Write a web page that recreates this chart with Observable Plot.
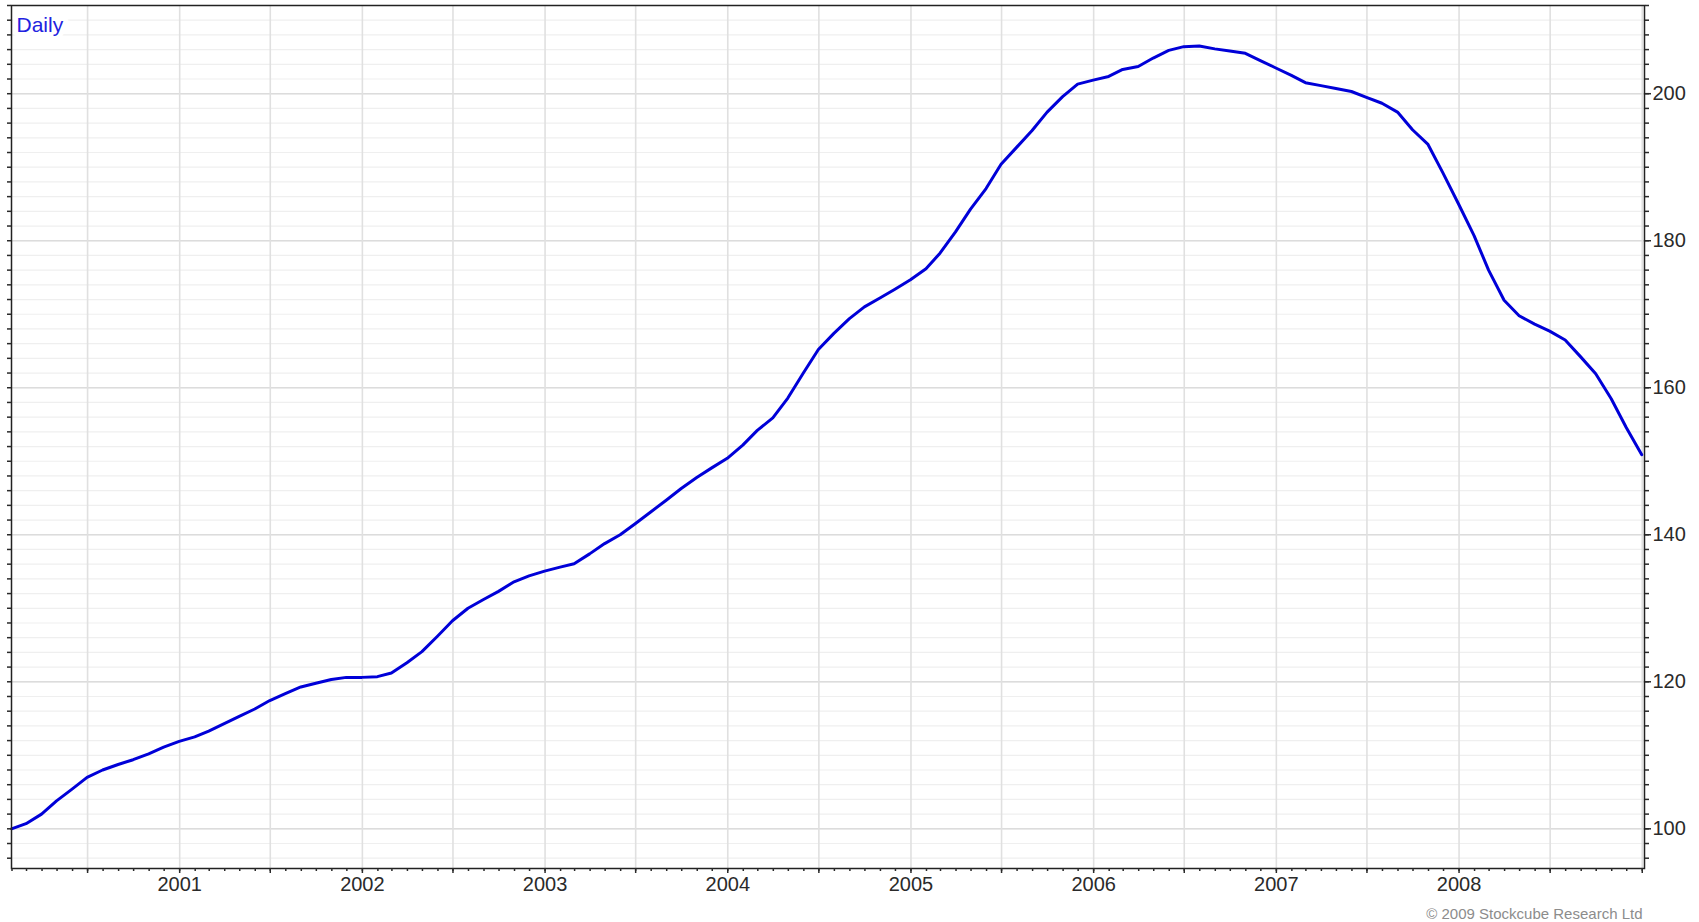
<!DOCTYPE html>
<html>
<head>
<meta charset="utf-8">
<script src="https://cdn.jsdelivr.net/npm/d3@7"></script>
<script src="https://cdn.jsdelivr.net/npm/@observablehq/plot@0.6"></script>
<style>
  html, body { margin: 0; padding: 0; background: #fff; overflow: hidden; }
  #chart svg { display: block; }
</style>
</head>
<body>
<div id="chart"></div>
<script>
// Monthly index values (month-end)
const years = [2000, 2001, 2002, 2003, 2004, 2005, 2006, 2007, 2008];
const values2000 = [100.0, 100.7, 102.0, 103.8, 105.4, 107.0, 108.0, 108.75, 109.4, 110.2, 111.1, 111.9];
const values2001 = [112.5, 113.3, 114.3, 115.3, 116.3, 117.45, 118.4, 119.3, 119.8, 120.3, 120.6, 120.6];
const values2002 = [120.7, 121.2, 122.6, 124.1, 126.2, 128.3, 130.0, 131.2, 132.3, 133.6, 134.4, 135.05];
const values2003 = [135.6, 136.05, 137.4, 138.8, 140.0, 141.5, 143.1, 144.7, 146.3, 147.8, 149.1, 150.4];
const values2004 = [152.2, 154.2, 155.9, 158.6, 162.0, 165.2, 167.4, 169.4, 171.0, 172.2, 173.4, 174.7];
const values2005 = [176.2, 178.3, 181.2, 184.3, 187.1, 190.4, 192.7, 195.0, 197.5, 199.6, 201.3, 201.85];
const values2006 = [202.35, 203.3, 203.7, 204.85, 205.9, 206.4, 206.5, 206.1, 205.8, 205.5, 204.5, 203.5];
const values2007 = [202.5, 201.5, 201.1, 200.7, 200.3, 199.5, 198.7, 197.5, 195.1, 193.1, 189.2, 185.0];
const values2008 = [180.7, 176.0, 171.9, 169.8, 168.65, 167.7, 166.5, 164.2, 161.9, 158.5, 154.6, 150.9];
const valuesByYear = [values2000, values2001, values2002, values2003, values2004, values2005, values2006, values2007, values2008];

const yLabelTicks = [100, 120, 140, 160, 180, 200];
const xLabelYears = [2001, 2002, 2003, 2004, 2005, 2006, 2007, 2008];
const seriesLabel = "Daily";
const copyright = "\u00A9 2009 Stockcube Research Ltd";

// Build table
const data = [];
years.forEach((yr, i) => {
  valuesByYear[i].forEach((v, m) => {
    data.push({date: new Date(Date.UTC(yr, m + 1, 0)), value: v});
  });
});

const xDomain = [new Date(Date.UTC(2000, 0, 31)), new Date(Date.UTC(2009, 0, 5, 12))];
const yDomain = [94.6, 212.0];

const yMinor = d3.range(96, 213, 2);
const monthTicks = d3.utcMonth.range(xDomain[0], xDomain[1]);
const halfYearTicks = monthTicks.filter(d => d.getUTCMonth() % 6 === 0);
const yearTicks = xLabelYears.map(y => new Date(Date.UTC(y, 0, 1)));

const font = "'Liberation Sans', Arial, sans-serif";

const chart = Plot.plot({
  width: 1699,
  height: 922,
  marginLeft: 11,
  marginTop: 5,
  marginRight: 55,
  marginBottom: 54,
  style: {fontFamily: font, fontSize: "20px", color: "#2a2a2a", background: "#fff"},
  x: {type: "utc", domain: xDomain},
  y: {domain: yDomain},
  marks: [
    Plot.ruleY(yMinor, {stroke: "#efefef", strokeWidth: 1.2}),
    Plot.ruleY(yLabelTicks, {stroke: "#dcdcdc", strokeWidth: 1.5}),
    Plot.ruleX(halfYearTicks, {stroke: "#e0e0e0", strokeWidth: 1.6}),
    Plot.line(data, {x: "date", y: "value", stroke: "#0000d8", strokeWidth: 3, strokeLinejoin: "round"}),
    Plot.text([seriesLabel], {
      frameAnchor: "top-left", dx: 5, dy: 12, textAnchor: "start", lineAnchor: "top",
      fill: "#2222e0", fontSize: 21, stroke: "white", strokeWidth: 10
    }),
    Plot.frame({stroke: "#222", strokeWidth: 1.5}),
    // left side ticks
    Plot.axisY({anchor: "left", ticks: yMinor, tickSize: 4, tickFormat: () => "", label: null, strokeWidth: 1.5}),
    // right side ticks + labels
    Plot.axisY({anchor: "right", ticks: yMinor, tickSize: 4, tickFormat: () => "", label: null, strokeWidth: 1.5}),
    Plot.axisY({anchor: "right", ticks: yLabelTicks, tickSize: 6, tickPadding: 2, tickFormat: d => String(d), label: null, strokeWidth: 1.5}),
    // bottom ticks + labels
    Plot.axisX({anchor: "bottom", ticks: monthTicks, tickSize: 3, tickFormat: () => "", label: null, strokeWidth: 1.5}),
    Plot.axisX({anchor: "bottom", ticks: halfYearTicks, tickSize: 5, tickFormat: () => "", label: null, strokeWidth: 1.5}),
    Plot.axisX({anchor: "bottom", ticks: yearTicks, tickSize: 0, tickPadding: 8, tickFormat: d => String(d.getUTCFullYear()), label: null}),
    Plot.text([copyright], {
      frameAnchor: "bottom-right", dx: -2, dy: 46, textAnchor: "end", lineAnchor: "middle",
      fill: "#8c8c8c", fontSize: 15
    })
  ]
});
document.getElementById("chart").appendChild(chart);
</script>
</body>
</html>
